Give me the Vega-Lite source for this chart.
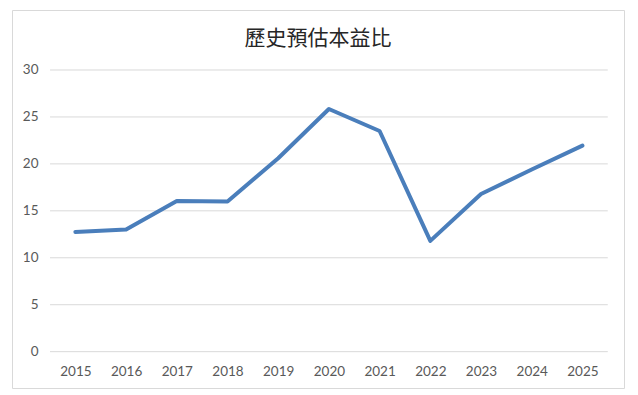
{
  "$schema": "https://vega.github.io/schema/vega-lite/v6.json",
  "width": 612,
  "height": 378,
  "autosize": {"type": "none"},
  "padding": {"left": 12, "top": 10, "right": 14, "bottom": 7},
  "background": "white",
  "config": {
    "view": {"stroke": "#d9d9d9", "strokeWidth": 1},
    "axis": {"labelFont": "Lato", "labelFontSize": 13.5, "labelColor": "#595959"}
  },
  "title": {
    "text": "歷史預估本益比",
    "font": "Noto Sans CJK TC",
    "fontSize": 21,
    "fontWeight": "normal",
    "color": "#262626",
    "anchor": "middle",
    "baseline": "middle",
    "offset": -50
  },
  "datasets": {
    "pe": [
      {"year": 2015, "pe": 12.75},
      {"year": 2016, "pe": 13.0},
      {"year": 2017, "pe": 16.05},
      {"year": 2018, "pe": 16.0},
      {"year": 2019, "pe": 20.6},
      {"year": 2020, "pe": 25.85},
      {"year": 2021, "pe": 23.5},
      {"year": 2022, "pe": 11.8},
      {"year": 2023, "pe": 16.8},
      {"year": 2024, "pe": 19.4},
      {"year": 2025, "pe": 21.95}
    ],
    "grid": [
      {"v": 0, "start": 2014.5, "end": 2025.5},
      {"v": 5, "start": 2014.5, "end": 2025.5},
      {"v": 10, "start": 2014.5, "end": 2025.5},
      {"v": 15, "start": 2014.5, "end": 2025.5},
      {"v": 20, "start": 2014.5, "end": 2025.5},
      {"v": 25, "start": 2014.5, "end": 2025.5},
      {"v": 30, "start": 2014.5, "end": 2025.5}
    ]
  },
  "layer": [
    {
      "data": {"name": "grid"},
      "mark": {"type": "rule", "color": "#d9d9d9", "strokeWidth": 1},
      "encoding": {
        "x": {
          "field": "start", "type": "quantitative",
          "scale": {"domain": [2013.75, 2025.82], "nice": false, "zero": false},
          "axis": {"title": null, "values": [2015, 2016, 2017, 2018, 2019, 2020, 2021, 2022, 2023, 2024, 2025], "format": "d", "domain": false, "ticks": false, "grid": false, "labelPadding": 13, "offset": -36.3}
        },
        "x2": {"field": "end"},
        "y": {
          "field": "v", "type": "quantitative",
          "scale": {"domain": [-3.87, 36.39], "nice": false, "zero": false},
          "axis": {"title": null, "values": [0, 5, 10, 15, 20, 25, 30], "domain": false, "ticks": false, "grid": false, "labelPadding": 12, "offset": -38}
        }
      }
    },
    {
      "data": {"name": "pe"},
      "mark": {"type": "line", "color": "#4a7ebb", "strokeWidth": 4, "strokeCap": "round", "strokeJoin": "round"},
      "encoding": {
        "x": {"field": "year", "type": "quantitative"},
        "y": {"field": "pe", "type": "quantitative"}
      }
    }
  ]
}
